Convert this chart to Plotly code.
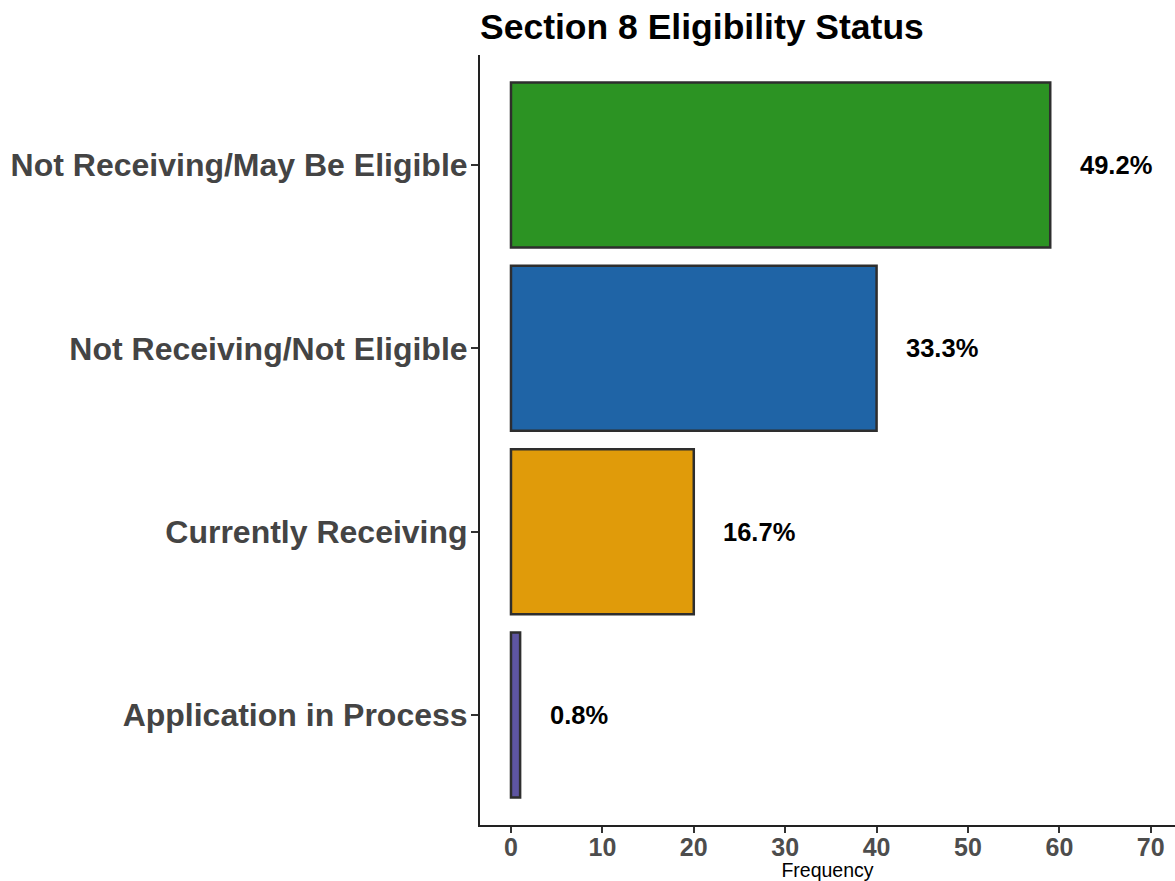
import plotly.graph_objects as go

# Section 8 eligibility counts (bottom to top)
categories = ["Application in Process", "Currently Receiving",
              "Not Receiving/Not Eligible", "Not Receiving/May Be Eligible"]
counts = [1, 20, 40, 59]
bar_colors = ["#5E55A2", "#E09B0A", "#1F64A6", "#2C9323"]
x_ticks = [0, 10, 20, 30, 40, 50, 60, 70]

total = sum(counts)
pct_labels = [f"{c / total * 100:.1f}%" for c in counts]

FONT = "Liberation Sans, Arial, sans-serif"

fig = go.Figure()
fig.add_trace(go.Bar(
    x=counts, y=categories, orientation="h", width=0.9,
    marker=dict(color=bar_colors, line=dict(color="#2E2E2E", width=2.5)),
    hoverinfo="x+y", showlegend=False,
))

# percentage labels just right of each bar
for c, cat, lab in zip(counts, categories, pct_labels):
    fig.add_annotation(x=c + 3, y=cat, text=lab, showarrow=False,
                       xanchor="left", yanchor="middle",
                       font=dict(family=FONT, size=25.5, color="black", weight="bold"))

fig.update_layout(
    width=1175, height=881,
    margin=dict(l=480, r=0, t=55, b=56),
    plot_bgcolor="white", paper_bgcolor="white",
    font=dict(family=FONT),
    title=dict(text="Section 8 Eligibility Status", x=480 / 1175, xanchor="left",
               xref="container", y=1 - 27 / 881, yanchor="middle",
               font=dict(size=35.5, color="black", weight="bold")),
    xaxis=dict(range=[-3.39, 72.65], tickvals=x_ticks, showgrid=False, zeroline=False,
               showline=True, linecolor="#222222", linewidth=2,
               ticks="outside", ticklen=6, tickwidth=1.5, tickcolor="#333333",
               ticklabelstandoff=-7,
               tickfont=dict(family=FONT, size=25, color="#4D4D4D", weight="bold"),
               title=dict(text="Frequency", standoff=0,
                          font=dict(family=FONT, size=19.5, color="black"))),
    yaxis=dict(range=[-0.6, 3.6], categoryorder="array", categoryarray=categories,
               showgrid=False, zeroline=False,
               showline=True, linecolor="#222222", linewidth=2,
               ticks="outside", ticklen=7, tickwidth=1.5, tickcolor="#333333",
               ticklabelstandoff=-3,
               tickfont=dict(family=FONT, size=32, color="#444444", weight="bold")),
)

fig.write_html("out.html")
